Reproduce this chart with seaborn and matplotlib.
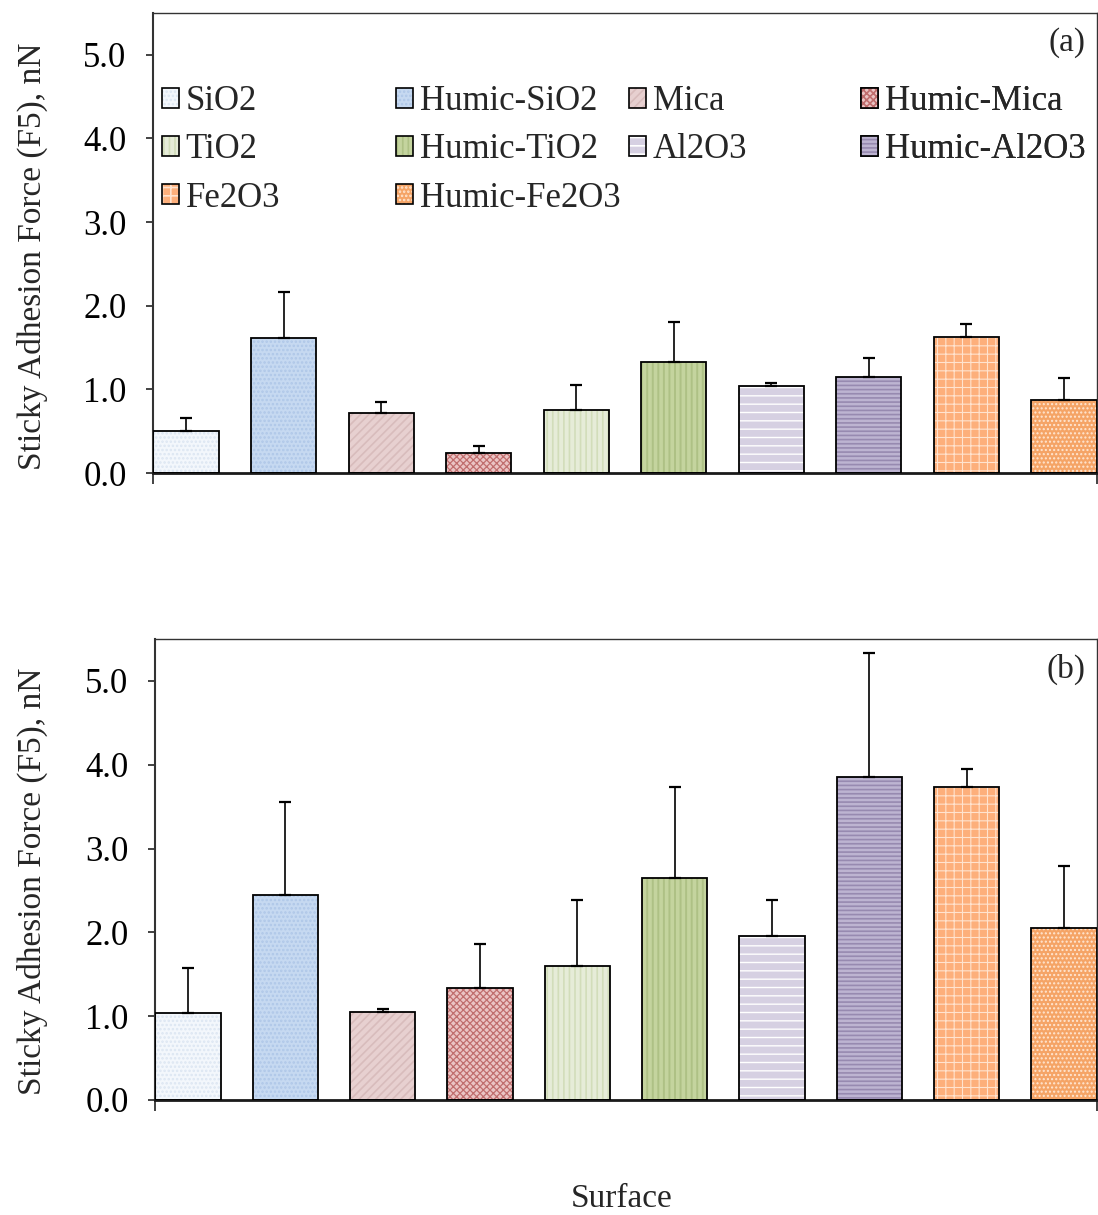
import matplotlib
matplotlib.use("Agg")
import matplotlib.pyplot as plt
import matplotlib.patches as mpatches
from matplotlib.legend_handler import HandlerTuple
from matplotlib.ticker import FormatStrFormatter
import seaborn as sns
import pandas as pd

# ---- data ----
categories = ["SiO2", "Humic-SiO2", "Mica", "Humic-Mica", "TiO2",
              "Humic-TiO2", "Al2O3", "Humic-Al2O3", "Fe2O3", "Humic-Fe2O3"]
force_a = [0.50, 1.61, 0.72, 0.24, 0.75, 1.33, 1.04, 1.15, 1.63, 0.87]
err_a = [0.16, 0.55, 0.13, 0.08, 0.30, 0.48, 0.04, 0.23, 0.15, 0.27]
force_b = [1.04, 2.45, 1.05, 1.34, 1.60, 2.65, 1.96, 3.85, 3.74, 2.05]
err_b = [0.54, 1.11, 0.04, 0.52, 0.79, 1.09, 0.43, 1.48, 0.21, 0.74]
y_ticks = [0.0, 1.0, 2.0, 3.0, 4.0, 5.0]

# ---- styles ----
face_colors = ["#F3F7FC", "#C6D9F1", "#E7D0D0", "#EBC4C4", "#E6ECD8",
               "#C4D49E", "#D6D0E2", "#BDB4D1", "#FDAF7B", "#F5A466"]
hatch_colors = ["#DCE6F2", "#AFC7E8", "#D8BCBC", "#C06E6E", "#D2DDBA",
                "#AEC185", "#FFFFFF", "#978AB0", "#FFE3CF", "#FFE6D2"]
hatches = ["....", "....", "////", "xxxxx", "|||",
           "|||", "--", "----", "++", "...."]
hatch_lws = [1.2, 1.2, 1.2, 0.9, 1.2, 1.4, 1.0, 1.2, 0.8, 1.0]

sns.set_style("white")
plt.rcParams["font.family"] = ["Liberation Serif", "DejaVu Serif"]
plt.rcParams["hatch.linewidth"] = 1.2

fig = plt.figure(figsize=(10.98, 12.15), dpi=100)
ax_a = fig.add_axes([153 / 1098, 1 - 473 / 1215, 944 / 1098, 460 / 1215])
ax_b = fig.add_axes([155 / 1098, 1 - 1100 / 1215, 942 / 1098, 461 / 1215])

bar_w = 0.67
FS = 24


def style_hatch(p, i):
    p.set_hatch(hatches[i])
    p.set_edgecolor(hatch_colors[i])
    p.set_linewidth(0)
    if hasattr(p, "set_hatch_linewidth"):
        p.set_hatch_linewidth(hatch_lws[i])


def draw_panel(ax, vals, errs, tag):
    df = pd.DataFrame({"Surface": categories, "Force": vals})
    sns.barplot(data=df, x="Surface", y="Force", hue="Surface",
                palette=face_colors, saturation=1, width=bar_w,
                errorbar=None, legend=False, ax=ax)
    xs = []
    for i, p in enumerate(ax.patches[:len(categories)]):
        style_hatch(p, i)
        ax.add_patch(mpatches.Rectangle(p.get_xy(), p.get_width(), p.get_height(),
                                        fill=False, edgecolor="black",
                                        linewidth=1.3, zorder=3))
        xs.append(p.get_x() + p.get_width() / 2)
    ax.errorbar(xs, vals, yerr=[[0] * len(errs), errs], fmt="none",
                ecolor="black", elinewidth=1.2, capsize=4.5, capthick=1.6,
                zorder=4)
    ax.set_xlim(-bar_w / 2 - 0.005, len(categories) - 1 + bar_w / 2 + 0.005)
    ax.set_ylim(0, 5.5)
    ax.set_yticks(y_ticks)
    ax.yaxis.set_major_formatter(FormatStrFormatter("%.1f"))
    ax.set_xticks([ax.get_xlim()[0], ax.get_xlim()[1]])
    ax.set_xticklabels([])
    ax.set_xlabel("")
    ax.tick_params(axis="y", direction="out", length=5, width=1.2,
                   labelsize=FS + 1, left=True, pad=14, colors="#222222",
                   labelcolor="black")
    ax.tick_params(axis="x", direction="out", length=8, width=1.2,
                   bottom=True, colors="#222222")
    for s in ["top", "right"]:
        ax.spines[s].set_visible(True)
        ax.spines[s].set_linewidth(1.0)
        ax.spines[s].set_color("#333333")
    ax.spines["left"].set_linewidth(1.5)
    ax.spines["left"].set_color("#333333")
    ax.spines["bottom"].set_linewidth(2.0)
    ax.spines["bottom"].set_color("#1a1a1a")
    ax.set_ylabel("Sticky Adhesion Force (F5), nN", fontsize=FS)
    ax.text(0.988, 0.935, tag, transform=ax.transAxes, ha="right",
            va="center", fontsize=FS)


draw_panel(ax_a, force_a, err_a, "(a)")
draw_panel(ax_b, force_b, err_b, "(b)")
ax_a.yaxis.set_label_coords(-0.111, 0.47)
ax_b.yaxis.set_label_coords(-0.114, 0.475)

# ---- legend (4 columns of equal width, row-wise order) ----
col_x = [162, 396, 629, 861]
for c in range(4):
    idxs = [i for i in range(len(categories)) if i % 4 == c]
    handles = []
    for i in idxs:
        hp = mpatches.Patch(facecolor=face_colors[i])
        style_hatch(hp, i)
        op = mpatches.Patch(facecolor="none", edgecolor="black", linewidth=1.2)
        handles.append((hp, op))
    leg = ax_a.legend(handles, [categories[i] for i in idxs],
                      handler_map={tuple: HandlerTuple(ndivide=1, pad=0)},
                      loc="upper left",
                      bbox_to_anchor=((col_x[c] - 153) / 944, (473 - 85) / 460),
                      frameon=False, fontsize=FS + 1, borderpad=0,
                      borderaxespad=0, handlelength=0.5, handleheight=0.5,
                      handletextpad=0.18, labelspacing=0.44)
    ax_a.add_artist(leg)

fig.text(622 / 1098, 1 - 1199 / 1215, "Surface", ha="center", va="center",
         fontsize=FS)

fig.savefig("out.png", dpi=100)
